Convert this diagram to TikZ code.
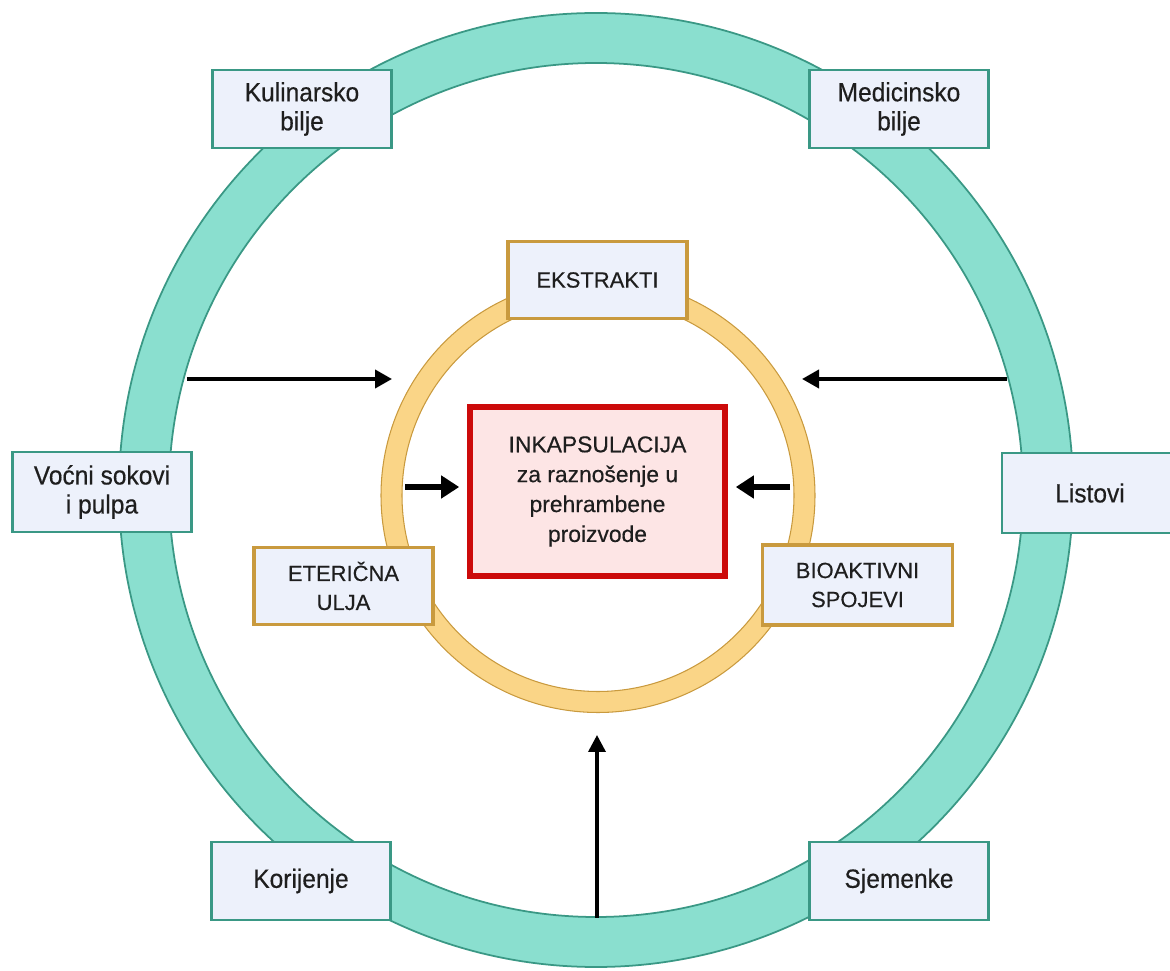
\documentclass[tikz,border=0pt]{standalone}
\usepackage{fontspec}
\setmainfont{Liberation Sans}[FakeBold=0.4]
\newfontfamily\outerfont{Liberation Sans}[FakeStretch=0.93, FakeBold=0.4]
\usepackage{color}
\usepackage{tikz}
\usetikzlibrary{arrows.meta}
\usetikzlibrary{positioning}

\definecolor{ringteal}{HTML}{8ADFCF}
\definecolor{edgeteal}{HTML}{3A9885}
\definecolor{ringgold}{HTML}{FAD587}
\definecolor{edgegold}{HTML}{C99A3E}
\definecolor{boxfill}{HTML}{EDF1FB}
\definecolor{redline}{HTML}{CC0A0A}
\definecolor{redfill}{HTML}{FDE5E5}
\definecolor{txt}{HTML}{1E1E1E}

\begin{document}
\begin{tikzpicture}[
  outerbox/.style={draw=edgeteal, line width=1.6pt, fill=boxfill, inner sep=0pt,
    minimum width=3.58cm, minimum height=1.56cm, align=center, text=txt,
    font=\outerfont\fontsize{15}{16.5}\selectfont},
  innerbox/.style={draw=edgegold, line width=1.9pt, fill=boxfill, inner sep=0pt,
    minimum width=3.58cm, minimum height=1.54cm, align=center, text=txt,
    font=\fontsize{12.5}{16.5}\selectfont},
  thinarrow/.style={line width=2.2pt, -{Triangle[length=0.34cm, width=0.36cm]}},
  fatarrow/.style={line width=3.6pt, -{Triangle[length=0.36cm, width=0.44cm]}}]
  \useasboundingbox (0,0) rectangle (23.4,19.42);

  % rings
  \coordinate (ctr)  at (11.92,9.62);
  \coordinate (mid)  at (11.96,9.51);
  \draw[edgeteal, line width=1pt, fill=ringteal, even odd rule] (ctr) circle (9.54) circle (8.54);

  % arrows from the outer ring
  \coordinate (tealW) at (3.74,11.84);
  \coordinate (goldW) at (7.84,11.84);
  \coordinate (tealE) at (20.14,11.84);
  \coordinate (goldE) at (16.04,11.84);
  \coordinate (tealS) at (11.94,1.06);
  \coordinate (goldS) at (11.94,4.72);
  \draw[thinarrow] (tealW) -- (goldW);
  \draw[thinarrow] (tealE) -- (goldE);
  \draw[line width=2pt, -{Triangle[length=0.34cm, width=0.34cm]}] (tealS) -- (goldS);

  \draw[edgegold, line width=0.6pt, fill=ringgold, even odd rule] (mid) circle (4.34) circle (3.92);

  \node (ink) at (11.95,9.59) [draw=redline, line width=3.2pt, fill=redfill, minimum width=5.1cm, minimum height=3.38cm,
    align=center, text=txt, font=\fontsize{13}{17}\selectfont]
    {INKAPSULACIJA\\za raznošenje u\\prehrambene\\proizvode};

  % inner boxes
  \node[innerbox] (eks) at (11.95,13.82) {EKSTRAKTI};
  \node[innerbox] (ete) at (6.87,7.70)   {ETERIČNA\\ULJA};
  \node[innerbox, minimum width=3.8cm, minimum height=1.6cm] (bio) at (17.15,7.72) {BIOAKTIVNI\\SPOJEVI};

  \coordinate (inW) at (8.10,9.68);
  \coordinate (inE) at (15.80,9.68);
  \draw[fatarrow] (inW) -- (inW -| ink.west) [shorten >=0.16cm];
  \draw[fatarrow] (inE) -- (inE -| ink.east) [shorten >=0.16cm];

  % outer boxes
  \node[outerbox] (kul) at (6.04,17.24)  {Kulinarsko\\bilje};
  \node[outerbox] (med) at (17.98,17.24) {Medicinsko\\bilje};
  \node[outerbox, minimum height=1.6cm] (voc) at (2.04,9.58)   {Voćni sokovi\\i pulpa};
  \node[outerbox, minimum height=1.6cm, minimum width=3.52cm] (lis) at (21.80,9.56) {Listovi};
  \node[outerbox] (kor) at (6.02,1.80)   {Korijenje};
  \node[outerbox] (sje) at (17.98,1.80)  {Sjemenke};

\end{tikzpicture}
\end{document}
